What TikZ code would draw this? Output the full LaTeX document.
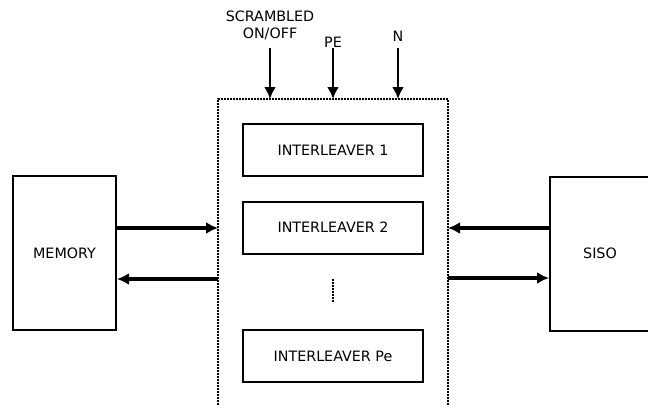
\documentclass[tikz,border=0pt]{standalone}
\usepackage{fontspec}
\setmainfont{DejaVu Sans}
\usetikzlibrary{positioning,arrows.meta}

\tikzset{
  block/.style={draw,line width=2pt,minimum width=180pt,minimum height=52pt,inner sep=0pt},
  unit/.style={draw,line width=2pt,minimum width=103pt,minimum height=154pt,inner sep=0pt},
  bus/.style={line width=4pt,-{Latex[length=12pt,width=12pt]}},
  ctrl/.style={line width=2.5pt,-{Latex[length=12pt,width=12pt]}},
}

\begin{document}
\begin{tikzpicture}[x=1pt,y=-1pt,font=\fontsize{14.3}{17}\selectfont]
\useasboundingbox (0,0) rectangle (648,405);

% dotted frame round the interleavers, open at the bottom
\draw[line width=1.6pt,dash pattern=on 1.6pt off 1.4pt] (218,405) |- (448,99) -- (448,405);

\node[unit] (memory) at (64.5,253) {MEMORY};
\node[unit,minimum width=100pt] (siso) at (600,253.5) {SISO};

\foreach \name/\y/\txt in {il1/150/INTERLEAVER 1, il2/227.5/INTERLEAVER 2, ilpe/356/INTERLEAVER Pe} {
    \node[block] (\name) at (333,\y) {\txt};
}
\draw[line width=1.6pt,dash pattern=on 1.6pt off 1.4pt] (333,279) -- (333,302);

% points on the frame
\coordinate (inl) at (218,228);
\coordinate (outl) at (218,279);
\coordinate (inr) at (448,228);
\coordinate (outr) at (448,278);
\coordinate (top) at (0,99);
\coordinate (start) at (0,48);

\draw[bus] (memory.east |- inl) -- (inl);
\draw[bus] (outl) -- (memory.east |- outl);
\draw[bus] (siso.west |- inr) -- (inr);
\draw[bus] (outr) -- (siso.west |- outr);

% control inputs on top
\node[align=center] (scr) at (270,25) {SCRAMBLED\\ON/OFF};
\node (pe) at (333,42) {PE};
\node (n) at (398,36) {N};

\foreach \lbl in {scr,pe,n} {
    \draw[ctrl] (\lbl.south |- start) -- (\lbl.south |- top);
}
\end{tikzpicture}
\end{document}
